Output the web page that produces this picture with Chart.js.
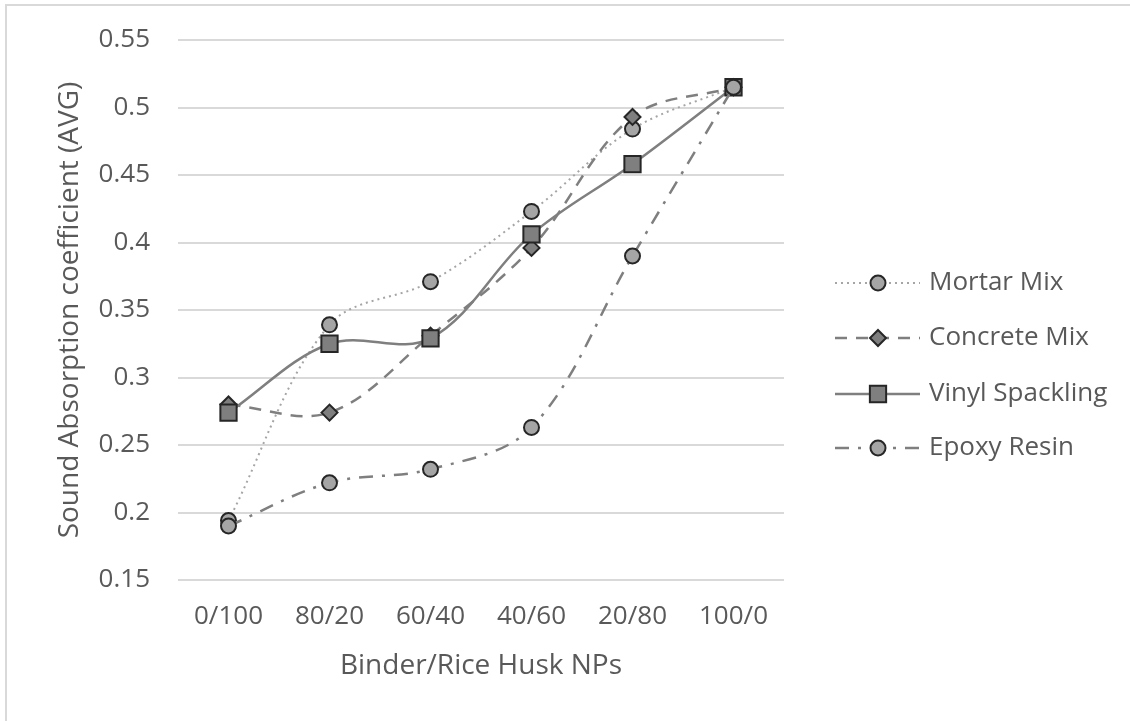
<!DOCTYPE html>
<html>
<head>
<meta charset="utf-8">
<script src="https://cdn.jsdelivr.net/npm/chart.js@4/dist/chart.umd.min.js"></script>
<style>
    html, body { margin: 0; padding: 0; background: #fff; overflow: hidden; }
    #wrap { position: relative; width: 1130px; height: 721px; }
    #frame {
        position: absolute; left: 5px; top: 4px; width: 1200px; height: 800px;
        border: 2px solid #d9d9d9; pointer-events: none;
    }
    canvas { position: absolute; left: 0; top: 0; }
</style>
</head>
<body>
<div id="wrap">
    <div id="frame"></div>
    <canvas id="chart" width="1130" height="721"></canvas>
</div>
<script>
var categories = ["0/100", "80/20", "60/40", "40/60", "20/80", "100/0"];
var seriesNames = ["Mortar Mix", "Concrete Mix", "Vinyl Spackling", "Epoxy Resin"];
var mortarMix = [0.194, 0.339, 0.371, 0.423, 0.484, 0.515];
var concreteMix = [0.280, 0.274, 0.331, 0.396, 0.493, 0.515];
var vinylSpackling = [0.274, 0.325, 0.329, 0.406, 0.458, 0.515];
var epoxyResin = [0.190, 0.222, 0.232, 0.263, 0.390, 0.515];
var yTicks = [0.15, 0.2, 0.25, 0.3, 0.35, 0.4, 0.45, 0.5, 0.55];

var FONT = "'Open Sans', 'DejaVu Sans', sans-serif";
var TEXT = "#595959";

// draws a marker the same way chart.js does, for the legend
function drawMarker(ctx, style, r, x, y) {
    ctx.beginPath();
    if (style === "circle") {
        ctx.arc(x, y, r, 0, Math.PI * 2);
    } else if (style === "rect") {
        var s = Math.SQRT1_2 * r;
        ctx.rect(x - s, y - s, 2 * s, 2 * s);
    } else if (style === "rectRot") {
        ctx.moveTo(x, y - r);
        ctx.lineTo(x + r, y);
        ctx.lineTo(x, y + r);
        ctx.lineTo(x - r, y);
    }
    ctx.closePath();
    ctx.fill();
    ctx.stroke();
}

var sideLegend = {
    id: "sideLegend",
    afterDraw: function (chart) {
        var ctx = chart.ctx;
        var rowY = [283, 338, 394, 448];
        chart.data.datasets.forEach(function (ds, i) {
            var y = rowY[i];
            ctx.save();
            ctx.strokeStyle = ds.borderColor;
            ctx.lineWidth = ds.borderWidth;
            ctx.setLineDash(ds.borderDash || []);
            ctx.beginPath();
            ctx.moveTo(835, y);
            ctx.lineTo(920, y);
            ctx.stroke();
            ctx.setLineDash([]);
            ctx.fillStyle = ds.pointBackgroundColor;
            ctx.strokeStyle = ds.pointBorderColor;
            ctx.lineWidth = ds.pointBorderWidth;
            drawMarker(ctx, ds.pointStyle, ds.pointRadius, 878, y);
            ctx.fillStyle = TEXT;
            ctx.font = "26px " + FONT;
            ctx.textBaseline = "middle";
            ctx.fillText(ds.label, 929, y);
            ctx.restore();
        });
    }
};

function makeSet(label, data, opts) {
    return Object.assign({
        label: label,
        data: data,
        fill: false,
        tension: 0.35,
        borderWidth: 2.5,
        pointBorderColor: "#262626",
        pointBorderWidth: 2,
        pointHoverRadius: 0
    }, opts);
}

var ctx = document.getElementById("chart");
new Chart(ctx, {
    type: "line",
    data: {
        labels: categories,
        datasets: [
            makeSet(seriesNames[0], mortarMix, {
                order: 4, borderColor: "#a5a5a5", borderWidth: 2, borderDash: [2, 4],
                pointStyle: "circle", pointRadius: 7.5, pointBackgroundColor: "#a5a5a5"
            }),
            makeSet(seriesNames[1], concreteMix, {
                order: 3, borderColor: "#7f7f7f", borderDash: [12, 9],
                pointStyle: "rectRot", pointRadius: 8, pointBackgroundColor: "#7f7f7f"
            }),
            makeSet(seriesNames[2], vinylSpackling, {
                order: 2, borderColor: "#7f7f7f",
                pointStyle: "rect", pointRadius: 11.5, pointBackgroundColor: "#7f7f7f"
            }),
            makeSet(seriesNames[3], epoxyResin, {
                order: 1, borderColor: "#7f7f7f", borderDash: [14, 9, 3, 9],
                pointStyle: "circle", pointRadius: 7.5, pointBackgroundColor: "#a5a5a5"
            })
        ]
    },
    options: {
        responsive: false,
        animation: false,
        events: [],
        layout: { padding: { left: 0, top: 40, right: 346, bottom: 0 } },
        plugins: {
            legend: { display: false },
            tooltip: { enabled: false }
        },
        scales: {
            x: {
                offset: true,
                grid: { display: false, drawTicks: false },
                border: { display: false },
                ticks: { color: TEXT, padding: 21, font: { family: FONT, size: 26 } },
                title: {
                    display: true, text: "Binder/Rice Husk NPs", color: TEXT,
                    font: { family: FONT, size: 28 }, padding: { top: 0, bottom: 38 }
                },
                afterFit: function (scale) { scale.height = 141; }
            },
            y: {
                min: 0.15,
                max: 0.55,
                afterBuildTicks: function (scale) {
                    scale.ticks = yTicks.map(function (v) { return { value: v }; });
                },
                // invisible tick marks give the gap between labels and plot
                grid: { color: "#d9d9d9", lineWidth: 2, drawTicks: true, tickLength: 28, tickColor: "rgba(0,0,0,0)" },
                border: { display: false },
                ticks: {
                    color: TEXT, padding: 0, font: { family: FONT, size: 26 },
                    callback: function (v) { return String(+v.toFixed(2)); }
                },
                title: {
                    display: true, text: "Sound Absorption coefficient (AVG)", color: TEXT,
                    font: { family: FONT, size: 28 }, padding: { top: 53, bottom: 0 }
                },
                afterFit: function (scale) { scale.width = 178; }
            }
        }
    },
    plugins: [sideLegend]
});
</script>
</body>
</html>
